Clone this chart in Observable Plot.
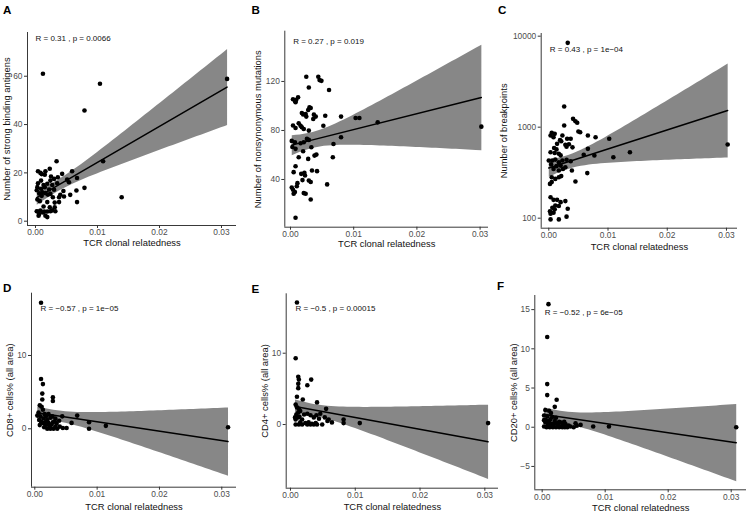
<!DOCTYPE html>
<html><head><meta charset="utf-8">
<script src="https://cdn.jsdelivr.net/npm/d3@7"></script>
<script src="https://cdn.jsdelivr.net/npm/@observablehq/plot@0.6"></script>
<style>
html,body{margin:0;padding:0;background:#fff;}
#root{position:relative;width:747px;height:512px;overflow:hidden;font-family:"Liberation Sans",Arial,sans-serif;background:#fff;}
.panel{position:absolute;}
.panel svg{overflow:visible;background:transparent;}
.letter{position:absolute;font-weight:bold;font-size:11.6px;line-height:11.6px;color:#000;}
</style></head><body><div id="root"></div>
<script>
// ---------- data ----------
const panelLetters = ["A","B","C","D","E","F"];
const xTitle = "TCR clonal relatedness";
const yTitles = ["Number of strong binding antigens","Number of nonsynonymous mutations","Number of breakpoints",
  "CD8+ cells% (all area)","CD4+ cells% (all area)","CD20+ cells% (all area)"];
const statR = ["0.31","0.27","0.43","\u22120.57","\u22120.5","\u22120.52"];
const statP = ["0.0066","0.019","1e\u221204","1e\u221205","0.00015","6e\u221205"];
const xTicks = [0, 0.01, 0.02, 0.03];
const yTicksA = [0, 20, 40, 60];
const yTicksB = [40, 80, 120];
const yTicksC = [100, 1000, 10000];
const yTicksD = [0, 10];
const yTicksE = [0, 10];
const yTicksF = [-5, 0, 5, 10, 15];

const xA = [.0034,.0023,.0004,.0008,.0016,.0015,.0043,.0036,.0059,.0067,.0051,.0054,.0030,.0024,.0009,.0004,.0019,.0027,.0035,.0003,
  .0009,.0015,.0022,.0030,.0079,.0066,.0011,.0016,.0024,.0040,.0056,.0046,.0028,.0038,.0003,.0007,.0067,.0019,.0031,.0038,
  .0013,.0023,.0031,.0002,.0004,.0008,.0012,.0019,.0024,.0032,.0006,.0005,.0016,.0019,.0012,.0104,.0079,.0309,.0109,.0139,
  .0010,.0020,.0013,.0025,.0006,.0045,.0002,.0014,.0027,.0010];
const yA = [24.8,21.7,20.7,20.0,20.7,19.2,19.6,18.2,20.7,17.9,17.2,16.1,17.5,16.8,16.8,15.7,15.5,15.0,15.7,14.1,
  13.4,14.1,13.1,13.0,13.8,12.7,12.0,11.6,11.3,10.9,10.9,10.2,9.9,9.9,9.0,8.3,7.9,7.9,7.7,7.9,
  6.1,5.8,5.8,4.1,4.0,4.4,3.6,4.0,4.1,4.1,3.0,2.3,2.3,1.7,61.0,56.9,45.8,58.9,24.8,9.9,
  10.5,11.0,15.0,18.5,11.5,12.5,12.8,4.0,4.5,19.5];

const xB = [.0025,.0044,.0046,.0049,.0029,.0061,.0012,.0009,.0007,.0008,.0004,.0032,.0028,.0030,.0018,.0024,.0025,.0037,.0040,.0036,
  .0020,.0055,.0080,.0103,.0109,.0138,.0302,.0052,.0013,.0016,.0018,.0021,.0008,.0004,.0029,.0080,.0026,.0029,.0007,.0016,
  .0021,.0068,.0002,.0033,.0008,.0020,.0003,.0038,.0041,.0067,.0013,.0028,.0008,.0034,.0042,.0005,.0017,.0023,.0022,.0029,
  .0011,.0019,.0032,.0058,.0004,.0007,.0005,.0021,.0024,.0002,.0010,.0032,.0008];
const yB = [123.8,123.8,121.1,120.5,115.1,113.0,107.0,104.8,104.3,103.0,105.5,98.3,96.7,98.8,94.2,93.4,91.3,92.9,91.3,89.4,
  93.0,92.0,91.3,90.2,90.2,86.6,83.1,83.9,85.8,83.9,82.6,81.2,82.0,84.0,79.9,74.4,73.1,72.3,70.4,69.6,
  70.4,69.0,71.5,66.3,65.0,63.0,66.5,59.5,60.3,58.2,58.2,56.8,50.8,47.3,46.8,46.0,44.6,43.3,45.5,39.2,
  37.0,39.5,38.0,36.0,31.6,29.7,28.3,28.9,28.3,33.5,34.5,23.7,8.8];

const xC = [.0032,.0026,.0041,.0045,.0048,.0026,.0005,.0010,.0003,.0023,.0008,.0031,.0037,.0019,.0021,.0050,.0053,.0066,.0079,.0102,
  .0014,.0028,.0034,.0030,.0040,.0009,.0013,.0066,.0077,.0109,.0137,.0302,.0059,.0003,.0010,.0017,.0020,.0000,.0006,.0011,
  .0017,.0023,.0030,.0037,.0004,.0013,.0020,.0028,.0008,.0017,.0024,.0039,.0065,.0005,.0011,.0017,.0021,.0005,.0002,.0045,
  .0003,.0008,.0014,.0020,.0028,.0011,.0017,.0006,.0002,.0032,.0003,.0008,.0030,.0003,.0017,.0010];
const yC = [8450,1690,1235,1163,1120,1043,866,845,810,810,776,745,745,720,700,896,880,810,776,745,
  656,640,650,610,600,590,570,578,489,468,530,646,497,530,520,510,490,430,430,440,
  412,430,438,423,390,373,378,363,348,334,348,334,313,282,270,282,290,249,238,253,
  170,159,159,150,154,138,136,130,119,127,112,115,104,97,97,125];

const xD = [.0010,.0010,.0013,.0012,.0012,.0029,.0029,.0008,.0011,.0013,.0009,.0016,.0022,.0044,.0068,.0014,.0020,.0025,.0033,.0039,
  .0013,.0022,.0029,.0059,.0087,.0017,.0025,.0033,.0114,.0310,.0020,.0025,.0030,.0036,.0051,.0087,.0006,.0004,.0010,.0018,
  .0027,.0035,.0040,.0015,.0008,.0045,.0023,.0032,.0028,.0018,.0007];
const yD = [17.2,6.8,6.1,4.8,4.0,4.3,3.8,3.2,3.0,2.6,1.7,2.0,2.0,1.7,1.8,1.4,1.2,1.5,1.4,1.1,
  0.8,0.8,0.9,0.8,0.9,0.5,0.2,0.3,0.4,0.2,0.0,0.0,0.0,0.0,0.1,0.0,2.2,1.8,1.0,1.0,
  0.6,0.7,0.3,0.2,0.5,0.1,0.4,1.0,1.7,1.7,1.2];

const xE = [.0010,.0008,.0012,.0013,.0012,.0032,.0026,.0012,.0010,.0019,.0041,.0055,.0008,.0010,.0013,.0015,.0012,.0009,.0014,.0021,
  .0026,.0031,.0036,.0040,.0044,.0053,.0059,.0082,.0082,.0107,.0305,.0008,.0015,.0023,.0028,.0033,.0039,.0049,.0008,.0013,
  .0018,.0026,.0031,.0036,.0041,.0064,.0018,.0012,.0046,.0057,.0007];
const yE = [17.1,9.3,6.7,6.3,5.7,6.3,5.5,5.1,3.9,3.5,3.1,2.2,2.8,2.4,2.2,1.9,1.7,1.4,1.1,1.4,
  1.5,1.3,1.0,1.3,0.8,1.0,0.7,0.7,0.2,0.2,0.2,0.7,0.3,0.2,0.3,0.1,0.2,0.0,0.0,0.0,
  0.0,0.0,0.0,0.0,0.0,0.3,0.7,1.0,1.5,0.5,1.0];

const xF = [.0010,.0008,.0008,.0008,.0023,.0020,.0011,.0005,.0014,.0003,.0008,.0016,.0003,.0011,.0020,.0027,.0032,.0037,.0053,.0061,
  .0081,.0106,.0308,.0045,.0003,.0007,.0012,.0017,.0022,.0027,.0032,.0040,.0050,.0015,.0025,.0030,.0019,.0009,.0034,.0028,
  .0005,.0013,.0022,.0018,.0042,.0055,.0024,.0036,.0006,.0035,.0010];
const yF = [15.7,11.5,5.5,4.1,3.5,2.6,2.1,2.2,1.8,1.5,1.4,1.3,0.9,0.8,0.8,0.7,0.4,0.4,0.5,0.3,
  0.1,0.1,0.0,0.1,0.1,0.0,0.0,0.0,0.0,0.0,0.0,0.0,0.0,0.4,0.3,0.6,0.5,0.3,0.2,0.1,
  0.6,1.0,1.2,0.2,0.2,0.2,0.5,0.0,0.9,0.7,0.5];

const xs = [xA, xB, xC, xD, xE, xF];
const ys = [yA, yB, yC, yD, yE, yF];
const yTicks = [yTicksA, yTicksB, yTicksC, yTicksD, yTicksE, yTicksF];

// ---------- layout (page pixels) and scale ranges ----------
const layout = [
  {box:[0,0,245,256],   frame:[27,236,32,225],      xDom:[-0.00129,0.03242], yDom:[-1.78,78.1],   yType:"linear", stat:[8,6],   yT:-21, xT:17.6, letter:[3,3.5]},
  {box:[245,0,245,256], frame:[284.3,488,30.7,226.7],xDom:[-0.0009,0.03133], yDom:[1.06,161],    yType:"linear", stat:[8.4,10], yT:-27, xT:17.2, letter:[251.5,3.5]},
  {box:[490,0,257,256], frame:[540.7,737,33,227.7], xDom:[-0.00128,0.03186], yDom:[77.6,10700],  yType:"log",    stat:[8.6,16.3], yT:-37, xT:18.3, letter:[498,3.5]},
  {box:[0,256,245,256], frame:[31,236,292.7,486.7], xDom:[-0.00053,0.03236], yDom:[-7.97,18.5],  yType:"linear", stat:[9,15.6], yT:-22, xT:19.3, letter:[3,281.8]},
  {box:[245,256,260,256],frame:[285.7,498,293.3,487.7],xDom:[-0.00066,0.03211],yDom:[-8.93,18.33],yType:"linear", stat:[9.3,14.4], yT:-21.4, xT:18.3, letter:[251.5,282.5]},
  {box:[490,256,257,256],frame:[534.3,746,295,489.3],xDom:[-0.00117,0.03243], yDom:[-7.98,16.8],  yType:"linear", stat:[10,17.3], yT:-21, xT:17.8, letter:[497,280.2]}
];

const root = document.getElementById("root");
const font = '"Liberation Sans", Arial, sans-serif';

layout.forEach((L, k) => {
  const pts = xs[k].map((x, i) => ({x, y: ys[k][i]}));
  const [bl, bt, bw, bh] = L.box;
  const [fl, fr, ft, fb] = L.frame;
  const statText = `R = ${statR[k]} , p = ${statP[k]}`;
  const chart = Plot.plot({
    width: bw, height: bh,
    marginLeft: fl - bl, marginRight: bl + bw - fr, marginTop: ft - bt, marginBottom: bt + bh - fb,
    style: {fontFamily: font, background: "transparent", overflow: "visible"},
    x: {domain: L.xDom},
    y: {type: L.yType, domain: L.yDom},
    marks: [
      Plot.linearRegressionY(pts, {x: "x", y: "y", stroke: "#000", strokeWidth: 1.5, fill: "#878787", fillOpacity: 1, ci: 0.95}),
      Plot.dot(pts, {x: "x", y: "y", r: 2.3, fill: "#000", stroke: "none"}),
      Plot.ruleX([L.xDom[0]], {stroke: "#222", strokeWidth: 0.9}),
      Plot.ruleY([L.yDom[0]], {stroke: "#222", strokeWidth: 0.9}),
      Plot.axisX({ticks: xTicks, tickFormat: d3.format(".2f"), tickSize: 3, tickPadding: 1, fontSize: 8.4, fill: "#4d4d4d", stroke: "#333", label: null}),
      Plot.axisY({ticks: yTicks[k], tickFormat: d3.format("d"), tickSize: 3, tickPadding: 2, fontSize: 8.4, fill: "#4d4d4d", stroke: "#333", label: null}),
      Plot.text([yTitles[k]], {frameAnchor: "left", rotate: -90, dx: L.yT, text: d => d, textAnchor: "middle", lineAnchor: "middle", fontSize: 9.4, fill: "#111"}),
      Plot.text([xTitle], {frameAnchor: "bottom", dy: L.xT, text: d => d, textAnchor: "middle", lineAnchor: "middle", fontSize: 9.4, fill: "#111"}),
      Plot.text([statText], {frameAnchor: "top-left", dx: L.stat[0], dy: L.stat[1], text: d => d, textAnchor: "start", lineAnchor: "middle", fontSize: 8, fill: "#111", ariaLabel: "stat"})
    ]
  });
  // italic R and p
  chart.querySelectorAll('g[aria-label="stat"] text').forEach(t => {
    t.textContent = "";
    const parts = [["R", true], [` = ${statR[k]} , `, false], ["p", true], [` = ${statP[k]}`, false]];
    for (const [s, it] of parts) {
      const ts = document.createElementNS("http://www.w3.org/2000/svg", "tspan");
      if (it) ts.setAttribute("font-style", "italic");
      ts.textContent = s;
      t.appendChild(ts);
    }
  });
  const div = document.createElement("div");
  div.className = "panel";
  div.style.left = bl + "px"; div.style.top = bt + "px";
  div.appendChild(chart);
  root.appendChild(div);
  const lt = document.createElement("div");
  lt.className = "letter";
  lt.style.left = L.letter[0] + "px"; lt.style.top = L.letter[1] + "px";
  lt.textContent = panelLetters[k];
  root.appendChild(lt);
});
</script></body></html>
